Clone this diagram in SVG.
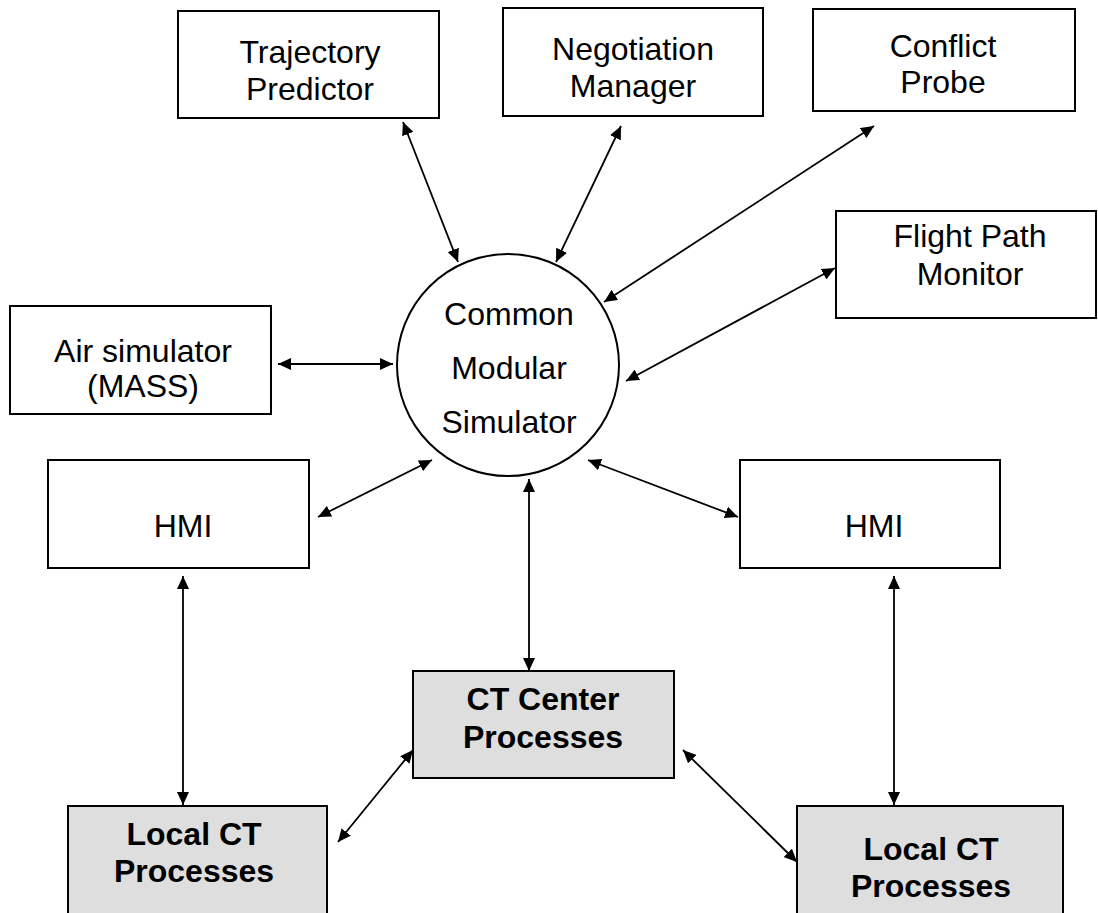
<svg xmlns="http://www.w3.org/2000/svg" width="1098" height="913" viewBox="0 0 1098 913">
<defs>
<marker id="ah" viewBox="0 0 13 12" refX="13" refY="6" markerWidth="13" markerHeight="12" markerUnits="userSpaceOnUse" orient="auto-start-reverse">
<path d="M0,0 L13,6 L0,12 z" fill="#000"/>
</marker>
<style>
.box{fill:#fff;stroke:#000;stroke-width:2}
.gbox{fill:#dedede;stroke:#000;stroke-width:2}
.t{font-family:"Liberation Sans",Arial,sans-serif;font-size:32px;fill:#000;text-anchor:middle}
.b{font-family:"Liberation Sans",Arial,sans-serif;font-size:32px;font-weight:bold;fill:#000;text-anchor:middle}
.c{stroke:#000;stroke-width:1.8;fill:none;marker-start:url(#ah);marker-end:url(#ah)}
</style>
</defs>
<rect width="1098" height="913" fill="#fff"/>
<g id="traj"><rect class="box" x="178" y="11" width="261" height="107"/><text class="t" x="310" y="63">Trajectory</text><text class="t" x="310" y="100">Predictor</text></g>
<g id="nego"><rect class="box" x="503" y="8" width="260" height="108"/><text class="t" x="633" y="60">Negotiation</text><text class="t" x="633" y="97">Manager</text></g>
<g id="conf"><rect class="box" x="813" y="9" width="262" height="102"/><text class="t" x="943" y="57">Conflict</text><text class="t" x="943" y="93">Probe</text></g>
<g id="fpm"><rect class="box" x="836" y="211" width="260" height="107"/><text class="t" x="970" y="247">Flight Path</text><text class="t" x="970" y="285">Monitor</text></g>
<g id="air"><rect class="box" x="10" y="306" width="261" height="108"/><text class="t" x="143" y="362">Air simulator</text><text class="t" x="143" y="397">(MASS)</text></g>
<g id="cms"><circle cx="508" cy="365" r="111" fill="#fff" stroke="#000" stroke-width="2"/><text class="t" x="509" y="325">Common</text><text class="t" x="509" y="379">Modular</text><text class="t" x="509" y="433">Simulator</text></g>
<g id="hmiL"><rect class="box" x="48" y="460" width="261" height="108"/><text class="t" x="183" y="537">HMI</text></g>
<g id="hmiR"><rect class="box" x="740" y="460" width="260" height="108"/><text class="t" x="874" y="537">HMI</text></g>
<g id="ctc"><rect class="gbox" x="413" y="671" width="261" height="107"/><text class="b" x="543" y="710">CT Center</text><text class="b" x="543" y="748">Processes</text></g>
<g id="lctL"><rect class="gbox" x="68" y="806" width="259" height="120"/><text class="b" x="194" y="845">Local CT</text><text class="b" x="194" y="882">Processes</text></g>
<g id="lctR"><rect class="gbox" x="797" y="806" width="266" height="120"/><text class="b" x="931" y="860">Local CT</text><text class="b" x="931" y="897">Processes</text></g>
<g id="connectors">
<line class="c" x1="403" y1="122" x2="458" y2="262"/>
<line class="c" x1="621" y1="126" x2="556" y2="262"/>
<line class="c" x1="874" y1="126" x2="604" y2="302"/>
<line class="c" x1="835" y1="268" x2="626" y2="381"/>
<line class="c" x1="278" y1="364" x2="393" y2="364"/>
<line class="c" x1="318" y1="517" x2="432" y2="460"/>
<line class="c" x1="588" y1="460" x2="738" y2="517"/>
<line class="c" x1="529" y1="479" x2="529" y2="671"/>
<line class="c" x1="183" y1="576" x2="183" y2="805"/>
<line class="c" x1="894" y1="576" x2="894" y2="805"/>
<line class="c" x1="338" y1="842" x2="413" y2="750"/>
<line class="c" x1="683" y1="750" x2="797" y2="862"/>
</g>
</svg>
